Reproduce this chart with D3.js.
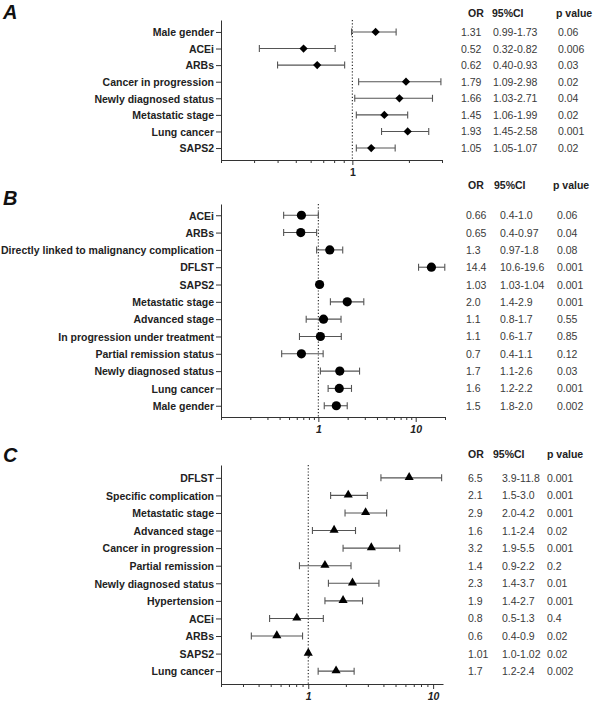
<!DOCTYPE html>
<html><head>
<meta charset="utf-8">
<title>Forest plots</title>
<script src="https://d3js.org/d3.v7.min.js"></script>
<style>
  body { margin: 0; background: #fff; }
  svg text { font-family: "Liberation Sans", Arial, Helvetica, sans-serif; }
  .rowlabel text { font-weight: bold; font-size: 10.5px; fill: #222; }
  .axis path, .axis line { stroke: #333; }
  .xlab { font-weight: bold; font-size: 10.5px; fill: #222; }
  .head { font-weight: bold; font-size: 10.5px; fill: #222; }
  .cell { font-size: 10.5px; fill: #3a3a3a; }
  .letter { font-weight: bold; font-style: italic; font-size: 20px; fill: #111; }
</style>
</head>
<body>
<svg id="forest" width="597" height="704"></svg>

<script>
// ---- Panel A
const labelsA = ["Male gender", "ACEi", "ARBs", "Cancer in progression", "Newly diagnosed status",
                 "Metastatic stage", "Lung cancer", "SAPS2"];
const orA   = [1.33, 0.55, 0.65, 1.93, 1.78, 1.48, 1.97, 1.26];
const lowA  = [0.99, 0.32, 0.40, 1.08, 1.03, 1.05, 1.43, 1.05];
const highA = [1.71, 0.81, 0.91, 2.96, 2.67, 1.97, 2.55, 1.69];
const orTxtA = ["1.31", "0.52", "0.62", "1.79", "1.66", "1.45", "1.93", "1.05"];
const ciTxtA = ["0.99-1.73", "0.32-0.82", "0.40-0.93", "1.09-2.98", "1.03-2.71", "1.06-1.99", "1.45-2.58", "1.05-1.07"];
const pTxtA  = ["0.06", "0.006", "0.03", "0.02", "0.04", "0.02", "0.001", "0.02"];
const ticksA = [0.2, 0.3, 0.4, 0.5, 0.6, 0.7, 0.8, 0.9, 1, 2, 3];
const majorA = [1];

// ---- Panel B
const labelsB = ["ACEi", "ARBs", "Directly linked to malignancy complication", "DFLST", "SAPS2",
                 "Metastatic stage", "Advanced stage", "In progression under treatment",
                 "Partial remission status", "Newly diagnosed status", "Lung cancer", "Male gender"];
const orB   = [0.67, 0.66, 1.31, 14.5, 1.03, 1.98, 1.13, 1.05, 0.67, 1.66, 1.64, 1.53];
const lowB  = [0.44, 0.44, 0.96, 10.7, 1.03, 1.33, 0.75, 0.64, 0.42, 1.05, 1.26, 1.15];
const highB = [1.0, 0.96, 1.78, 19.9, 1.04, 2.93, 1.71, 1.72, 1.12, 2.65, 2.19, 1.98];
const orTxtB = ["0.66", "0.65", "1.3", "14.4", "1.03", "2.0", "1.1", "1.1", "0.7", "1.7", "1.6", "1.5"];
const ciTxtB = ["0.4-1.0", "0.4-0.97", "0.97-1.8", "10.6-19.6", "1.03-1.04", "1.4-2.9", "0.8-1.7",
                "0.6-1.7", "0.4-1.1", "1.1-2.6", "1.2-2.2", "1.8-2.0"];
const pTxtB  = ["0.06", "0.04", "0.08", "0.001", "0.001", "0.001", "0.55", "0.85", "0.12", "0.03", "0.001", "0.002"];
const ticksB = [0.1, 0.2, 0.3, 0.4, 0.5, 0.6, 0.7, 0.8, 0.9, 1, 2, 3, 4, 5, 6, 7, 8, 9, 10, 20];
const majorB = [1, 10];

// ---- Panel C
const labelsC = ["DFLST", "Specific complication", "Metastatic stage", "Advanced stage", "Cancer in progression",
                 "Partial remission", "Newly diagnosed status", "Hypertension", "ACEi", "ARBs", "SAPS2", "Lung cancer"];
const orC   = [6.43, 2.09, 2.88, 1.61, 3.2, 1.36, 2.26, 1.9, 0.81, 0.56, 1.0, 1.67];
const lowC  = [3.82, 1.51, 1.97, 1.08, 1.9, 0.85, 1.45, 1.36, 0.49, 0.35, 1.0, 1.2];
const highC = [11.7, 2.97, 4.24, 2.39, 5.4, 2.2, 3.68, 2.72, 1.32, 0.9, 1.02, 2.33];
const orTxtC = ["6.5", "2.1", "2.9", "1.6", "3.2", "1.4", "2.3", "1.9", "0.8", "0.6", "1.01", "1.7"];
const ciTxtC = ["3.9-11.8", "1.5-3.0", "2.0-4.2", "1.1-2.4", "1.9-5.5", "0.9-2.2", "1.4-3.7", "1.4-2.7",
                "0.5-1.3", "0.4-0.9", "1.0-1.02", "1.2-2.4"];
const pTxtC  = ["0.001", "0.001", "0.001", "0.02", "0.001", "0.2", "0.01", "0.001", "0.4", "0.02", "0.02", "0.002"];
const ticksC = [0.2, 0.3, 0.4, 0.5, 0.6, 0.7, 0.8, 0.9, 1, 2, 3, 4, 5, 6, 7, 8, 9, 10];
const majorC = [1, 10];

const headers = ["OR", "95%CI", "p value"];

const svg = d3.select("svg#forest");

// one forest panel: axes, dotted line at 1, error bars, markers, table on the right
function drawPanel(p) {
  const x = d3.scaleLog().domain(p.domain).range([221, p.right]);
  const y = d3.scalePoint().domain(p.labels).range([p.top, p.bottom]).padding(p.pad);
  const g = svg.append("g");

  svg.append("text").attr("class", "letter").attr("x", 3).attr("y", p.letterY).text(p.letter);

  // y axis with category labels
  g.append("g").attr("class", "axis rowlabel")
    .attr("transform", "translate(221,0)")
    .call(d3.axisLeft(y).tickSize(5).tickPadding(2).tickSizeOuter(0))
    .selectAll("text").attr("dy", "0.36em");

  // x axis, log, only 1 and 10 labelled
  const xa = g.append("g").attr("class", "axis")
    .attr("transform", "translate(0," + p.bottom + ")")
    .call(d3.axisBottom(x).tickValues(p.ticks).tickSize(3).tickSizeOuter(0)
            .tickFormat(d => p.major.includes(d) ? String(d) : ""));
  xa.selectAll(".tick").filter(d => p.major.includes(d)).select("line").attr("y2", 5);
  xa.selectAll("text").attr("class", "xlab").attr("y", 9)
    .style("font-style", p.italic ? "italic" : "normal");
  xa.selectAll("path, line").attr("stroke-width", 1);

  // dotted reference line at OR = 1
  g.append("line")
    .attr("x1", x(1)).attr("x2", x(1)).attr("y1", p.top).attr("y2", p.bottom)
    .attr("stroke", "#222").attr("stroke-width", 1.1).attr("stroke-dasharray", "1.2,2");

  // error bars
  p.labels.forEach((lab, i) => {
    const yy = y(lab);
    const bar = g.append("g").attr("stroke", "#555").attr("stroke-width", 1.1);
    bar.append("line").attr("x1", x(p.low[i])).attr("x2", x(p.high[i])).attr("y1", yy).attr("y2", yy);
    [p.low[i], p.high[i]].forEach(v => {
      bar.append("line").attr("x1", x(v)).attr("x2", x(v)).attr("y1", yy - 3.5).attr("y2", yy + 3.5);
    });
  });

  // markers
  p.labels.forEach((lab, i) => {
    const cx = x(p.or[i]), cy = y(lab);
    if (p.shape === "circle") {
      g.append("circle").attr("cx", cx).attr("cy", cy).attr("r", 4.6).attr("fill", "#000");
    } else if (p.shape === "diamond") {
      g.append("path").attr("d", d3.symbol(d3.symbolSquare, 34)())
        .attr("transform", "translate(" + cx + "," + cy + ") rotate(45)").attr("fill", "#000");
    } else {
      g.append("path").attr("d", d3.symbol(d3.symbolTriangle, 36)())
        .attr("transform", "translate(" + cx + "," + (cy - 0.5) + ")").attr("fill", "#000");
    }
  });

  // table
  headers.forEach((h, j) => {
    svg.append("text").attr("class", "head").attr("x", p.headX[j]).attr("y", p.headY)
      .attr("dy", "0.35em").text(h);
  });
  [p.orTxt, p.ciTxt, p.pTxt].forEach((col, j) => {
    col.forEach((t, i) => {
      svg.append("text").attr("class", "cell").attr("x", p.colX[j]).attr("y", y(p.labels[i]))
        .attr("dy", "0.38em").text(t);
    });
  });
}

drawPanel({ letter: "A", letterY: 19, labels: labelsA, or: orA, low: lowA, high: highA,
  orTxt: orTxtA, ciTxt: ciTxtA, pTxt: pTxtA, ticks: ticksA, major: majorA, domain: [0.2, 3],
  right: 442, top: 20, bottom: 160, pad: 0.72, shape: "diamond", italic: false,
  headY: 13, headX: [468, 492, 556], colX: [461, 493, 558] });

drawPanel({ letter: "B", letterY: 205, labels: labelsB, or: orB, low: lowB, high: highB,
  orTxt: orTxtB, ciTxt: ciTxtB, pTxt: pTxtB, ticks: ticksB, major: majorB, domain: [0.1, 20],
  right: 445, top: 204, bottom: 417, pad: 0.65, shape: "circle", italic: true,
  headY: 185, headX: [468, 494, 553], colX: [466, 500, 557] });

drawPanel({ letter: "C", letterY: 462, labels: labelsC, or: orC, low: lowC, high: highC,
  orTxt: orTxtC, ciTxt: ciTxtC, pTxt: pTxtC, ticks: ticksC, major: majorC, domain: [0.2, 12],
  right: 443, top: 465, bottom: 684, pad: 0.73, shape: "triangle", italic: true,
  headY: 454, headX: [468, 493, 547], colX: [468, 502, 547] });
</script>
</body>
</html>
